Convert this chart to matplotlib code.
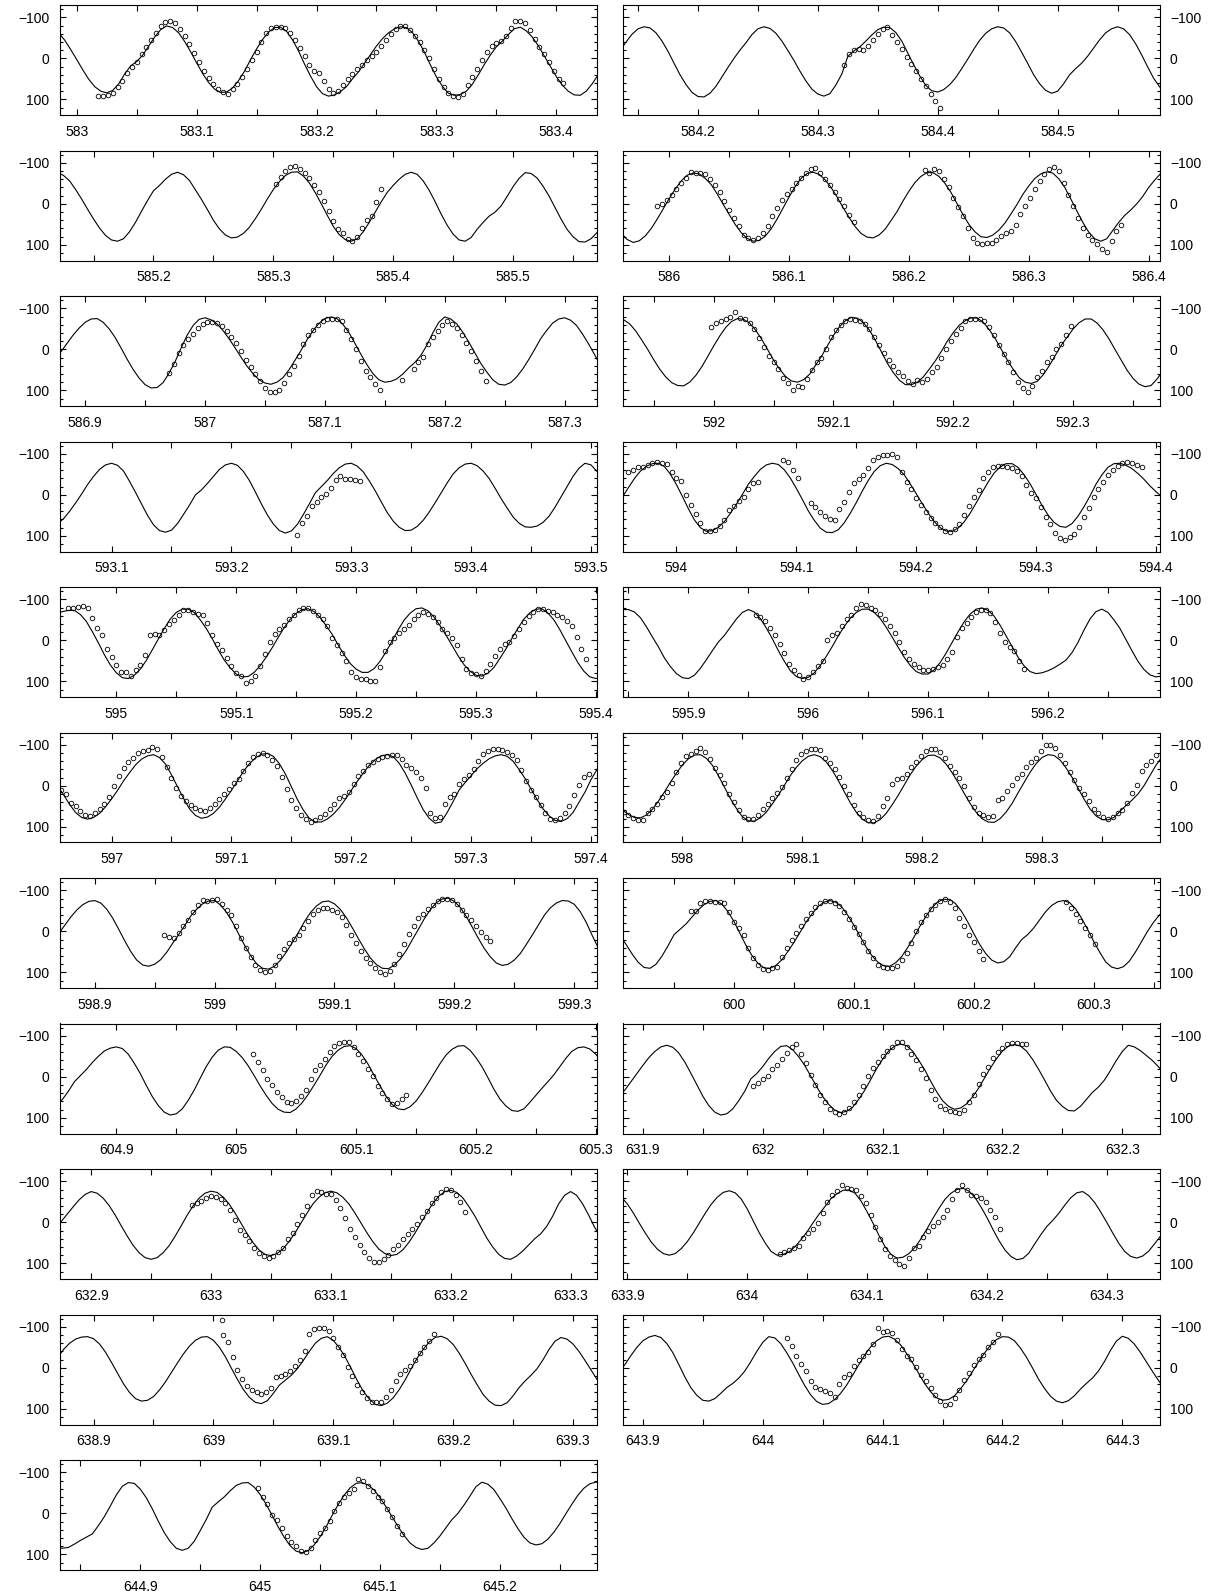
import numpy as np
import matplotlib.pyplot as plt
from matplotlib.ticker import MultipleLocator, FuncFormatter

plt.rcParams['font.family'] = ['Liberation Sans', 'DejaVu Sans']

MODEL_STEP = 0.005  # model curve read every 0.005 d
OBS_STEP = 0.004    # observations read every 0.004 d
SPAN = 0.448        # days shown per panel

# left edge (HJD - 2450000) of each panel, row by row, left then right
x_start = [582.986, 584.137, 585.122, 585.961, 586.879, 591.924, 593.057,
           593.955, 594.953, 595.845, 596.957, 597.950, 598.871, 599.907,
           604.853, 631.883, 632.874, 633.896, 638.872, 643.883, 644.833]

# first time of each model grid
model_t0 = [582.98, 584.13, 585.12, 585.96, 586.87, 591.92, 593.05, 593.95,
            594.95, 595.84, 596.95, 597.94, 598.87, 599.90, 604.85, 631.88,
            632.87, 633.89, 638.87, 643.88, 644.83]

# model radial velocity (km/s)
m01 = [-73, -62, -44, -21, 3, 28, 51, 69, 80, 84, 78, 62, 38, 18, 8, -8, -30, -52, -70, -79,
       -75, -62, -41, -16, 11, 37, 59, 75, 83, 82, 72, 54, 31, 3, -23, -46, -64, -75, -76, -66,
       -45, -18, 14, 43, 69, 86, 92, 89, 81, 69, 50, 33, 12, -9, -30, -48, -62, -72, -77, -75,
       -63, -42, -15, 16, 45, 68, 85, 90, 88, 80, 63, 40, 15, -8, -28, -42, -58, -72, -76, -67,
       -52, -31, -6, 19, 44, 65, 80, 89, 90, 80, 62, 40, 15]
m02 = [6, -19, -40, -59, -72, -77, -74, -62, -42, -17, 12, 40, 64, 83, 93, 94, 85, 68, 45, 22,
       0, -20, -38, -58, -72, -77, -73, -61, -42, -19, 5, 31, 55, 75, 87, 92, 86, 65, 38, -5,
       -18, -28, -42, -57, -70, -76, -75, -63, -42, -13, 16, 43, 66, 79, 82, 76, 64, 47, 25, 2,
       -22, -44, -61, -72, -77, -74, -62, -41, -15, 12, 40, 62, 78, 85, 80, 62, 40, 25, 12, -5,
       -25, -45, -62, -72, -77, -72, -58, -36, -9, 20, 48, 69, 84]
m03 = [-77, -69, -56, -35, -12, 13, 37, 59, 77, 88, 91, 85, 68, 45, 18, -8, -32, -45, -60, -72,
       -77, -71, -57, -34, -11, 14, 40, 61, 76, 83, 81, 72, 57, 36, 13, -12, -35, -54, -69, -77,
       -78, -68, -51, -27, 0, 28, 55, 75, 87, 91, 85, 68, 45, 20, -5, -28, -45, -60, -72, -77,
       -72, -56, -33, -5, 25, 52, 74, 88, 91, 82, 62, 45, 30, 20, 5, -18, -42, -62, -76, -74,
       -63, -43, -19, 9, 37, 62, 80, 92, 93, 85, 70, 52, 32]
m04 = [72, 87, 94, 90, 78, 60, 37, 12, -13, -36, -56, -70, -75, -73, -62, -47, -24, 1, 26, 50,
       70, 84, 91, 89, 79, 61, 37, 10, -17, -42, -62, -74, -77, -72, -59, -40, -17, 9, 33, 55,
       72, 81, 83, 76, 62, 41, 19, -7, -31, -52, -67, -76, -76, -67, -50, -28, -1, 26, 50, 68,
       80, 82, 76, 64, 47, 25, 2, -23, -44, -62, -73, -78, -75, -61, -40, -12, 17, 45, 69, 85,
       91, 85, 65, 45, 28, 15, 0, -18, -40, -58, -74]
m05 = [35, 22, 5, -15, -35, -52, -66, -74, -75, -66, -50, -29, -3, 24, 49, 70, 86, 94, 93, 81,
       58, 30, -3, -34, -58, -73, -77, -72, -62, -46, -26, -4, 19, 41, 59, 74, 82, 85, 80, 69,
       50, 27, 3, -23, -45, -63, -75, -79, -75, -61, -41, -15, 12, 37, 59, 74, 80, 78, 72, 60,
       45, 32, 15, -10, -40, -66, -79, -74, -62, -42, -18, 8, 34, 55, 74, 85, 87, 81, 67, 48,
       25, 0, -26, -46, -64, -74, -77, -71, -58, -37, -13, 13, 40]
m06 = [-76, -72, -62, -45, -23, 0, 25, 48, 67, 81, 88, 89, 80, 64, 43, 18, -8, -32, -53, -68,
       -75, -73, -64, -47, -25, 0, 26, 48, 66, 77, 80, 74, 61, 39, 17, -9, -34, -55, -70, -78,
       -76, -65, -47, -22, 6, 34, 57, 75, 86, 86, 80, 67, 48, 28, 5, -20, -41, -59, -70, -77,
       -76, -66, -48, -26, 0, 26, 49, 69, 80, 83, 78, 62, 40, 15, -10, -30, -50, -65, -74, -74,
       -64, -47, -25, 1, 26, 51, 71, 85, 91, 88, 72, 52, 32]
m07 = [80, 70, 58, 40, 20, -2, -25, -45, -62, -73, -77, -72, -58, -33, -6, 22, 50, 73, 87, 91,
       86, 70, 48, 25, 0, -12, -28, -45, -62, -73, -77, -72, -57, -35, -7, 22, 49, 71, 87, 93,
       88, 72, 48, 22, -5, -20, -35, -52, -66, -75, -77, -70, -56, -34, -10, 17, 43, 64, 79, 87,
       86, 77, 62, 42, 19, -5, -29, -51, -66, -75, -77, -71, -58, -40, -16, 9, 32, 54, 69, 78,
       79, 76, 67, 52, 30, 5, -20, -45, -65, -77, -73, -57, -40]
m08 = [25, 5, -18, -40, -58, -70, -76, -77, -69, -50, -25, 4, 34, 61, 80, 89, 87, 79, 65, 45,
       23, -1, -26, -45, -62, -73, -77, -74, -61, -41, -16, 11, 39, 62, 81, 91, 92, 85, 68, 45,
       19, -9, -35, -57, -71, -77, -74, -64, -49, -27, -3, 21, 44, 65, 80, 88, 89, 81, 66, 45,
       20, -6, -31, -53, -68, -76, -76, -67, -49, -27, -1, 26, 49, 67, 77, 79, 70, 52, 29, 3,
       -26, -49, -67, -76, -77, -72, -64, -52, -38, -22, -8, 5, 20]
m09 = [-65, -70, -73, -73, -63, -46, -21, 6, 35, 60, 79, 91, 93, 85, 70, 49, 23, -3, -29, -52,
       -68, -76, -76, -68, -50, -29, -4, 23, 48, 67, 82, 89, 88, 78, 62, 41, 18, -7, -31, -51,
       -66, -75, -77, -70, -56, -36, -15, 11, 35, 56, 70, 78, 78, 69, 51, 28, 2, -25, -49, -66,
       -77, -79, -72, -57, -36, -13, 12, 37, 59, 75, 85, 87, 80, 66, 44, 21, -5, -29, -52, -67,
       -76, -77, -67, -50, -26, 1, 28, 54, 75, 89, 93, 90, 82]
m10 = [-72, -75, -75, -69, -55, -33, -8, 16, 43, 64, 81, 91, 93, 85, 68, 47, 25, 4, -12, -32,
       -52, -68, -75, -69, -53, -30, -4, 25, 51, 74, 88, 93, 90, 79, 61, 39, 15, -11, -34, -54,
       -68, -76, -76, -68, -53, -32, -8, 17, 41, 61, 76, 82, 82, 72, 54, 31, 5, -21, -45, -64,
       -76, -79, -73, -59, -37, -11, 15, 41, 62, 76, 81, 79, 74, 67, 58, 48, 30, 5, -25, -52,
       -70, -76, -68, -50, -29, -2, 25, 51, 71, 84, 89, 87, 82]
m11 = [-15, 0, 22, 45, 65, 77, 81, 77, 67, 51, 32, 11, -12, -32, -51, -65, -73, -76, -69, -53,
       -27, 2, 30, 56, 72, 79, 76, 67, 52, 32, 11, -12, -35, -54, -68, -77, -79, -72, -54, -29,
       2, 33, 59, 79, 88, 88, 81, 69, 53, 33, 11, -11, -31, -50, -64, -73, -76, -71, -55, -31,
       -2, 29, 58, 79, 91, 88, 65, 38, 10, -8, -25, -42, -55, -66, -73, -76, -72, -60, -40, -18,
       8, 33, 56, 73, 84, 87, 80, 65, 40, 15, -15, -40, -58]
m12 = [35, 45, 59, 70, 77, 78, 71, 57, 37, 15, -9, -31, -51, -66, -75, -76, -67, -50, -25, 3,
       31, 55, 75, 85, 86, 78, 64, 44, 23, -1, -25, -45, -61, -72, -76, -71, -58, -38, -13, 14,
       41, 64, 81, 90, 90, 82, 67, 46, 23, -2, -27, -48, -64, -74, -75, -68, -53, -32, -8, 18,
       43, 64, 80, 88, 89, 80, 64, 43, 17, -8, -33, -54, -69, -76, -74, -63, -44, -21, 5, 32,
       56, 73, 82, 83, 77, 62, 48, 35, 20, 0, -25, -50, -70]
m13 = [5, -15, -35, -52, -65, -73, -75, -69, -54, -32, -5, 23, 49, 70, 82, 85, 80, 69, 51, 29,
       8, -14, -37, -54, -67, -74, -75, -64, -46, -22, 6, 34, 59, 79, 90, 92, 85, 70, 50, 26,
       2, -24, -46, -62, -72, -74, -67, -53, -33, -8, 18, 43, 65, 81, 90, 91, 82, 67, 46, 20,
       -5, -31, -53, -70, -79, -81, -73, -58, -36, -10, 17, 42, 62, 77, 83, 80, 70, 54, 32, 9,
       -15, -39, -57, -69, -75, -74, -66, -48, -22, 10, 40, 62, 78]
m14 = [-10, 10, 32, 55, 75, 88, 90, 80, 60, 35, 8, -5, -18, -35, -52, -65, -73, -75, -66, -48,
       -24, 5, 34, 59, 78, 89, 90, 83, 69, 49, 27, 3, -22, -42, -60, -71, -75, -71, -59, -39,
       -15, 11, 37, 59, 75, 84, 85, 76, 61, 39, 15, -12, -36, -57, -72, -78, -78, -67, -48, -23,
       5, 32, 54, 70, 77, 74, 62, 40, 20, 8, -8, -28, -48, -63, -72, -75, -70, -55, -32, -5,
       24, 50, 74, 87, 91, 86, 72, 50, 25, 0, -22, -40, -55]
m15 = [68, 55, 35, 12, -3, -18, -35, -50, -63, -70, -73, -69, -55, -33, -8, 21, 48, 70, 86, 93,
       90, 78, 57, 32, 3, -25, -48, -65, -73, -72, -62, -47, -27, -3, 22, 45, 65, 79, 86, 87,
       78, 63, 43, 20, -4, -29, -50, -65, -74, -76, -69, -53, -31, -4, 22, 47, 67, 78, 80, 73,
       59, 39, 16, -8, -32, -53, -67, -75, -76, -65, -47, -25, 2, 30, 54, 71, 82, 84, 78, 62,
       45, 28, 12, -5, -25, -45, -62, -71, -73, -68, -55, -38, -20]
m16 = [48, 32, 12, -8, -28, -47, -62, -73, -77, -72, -58, -36, -9, 19, 47, 70, 86, 93, 90, 78,
       58, 35, 5, -8, -25, -45, -62, -74, -76, -66, -49, -28, -2, 24, 48, 67, 81, 87, 84, 74,
       55, 33, 7, -20, -43, -63, -75, -80, -76, -63, -41, -18, 10, 36, 58, 72, 79, 76, 66, 49,
       28, 3, -22, -44, -63, -75, -79, -75, -63, -43, -19, 7, 34, 57, 72, 82, 83, 72, 55, 38,
       25, 8, -15, -40, -62, -77, -73, -64, -52, -40, -25, -8, 10]
m17 = [15, -2, -20, -38, -55, -68, -75, -71, -59, -41, -18, 8, 33, 56, 74, 86, 90, 86, 74, 57,
       34, 9, -17, -40, -59, -71, -76, -73, -62, -45, -23, 2, 27, 49, 67, 78, 81, 76, 65, 47,
       26, 2, -22, -45, -61, -72, -76, -72, -61, -45, -23, 1, 25, 47, 65, 76, 81, 78, 67, 49,
       27, 2, -23, -46, -64, -75, -78, -73, -60, -39, -16, 11, 38, 60, 78, 88, 90, 82, 70, 55,
       40, 28, 10, -15, -45, -66, -75, -66, -45, -18, 12, 35, 55]
m18 = [-73, -62, -45, -23, 2, 26, 48, 65, 76, 80, 76, 64, 47, 26, 2, -22, -44, -61, -73, -77,
       -72, -57, -33, -4, 25, 50, 71, 80, 78, 72, 59, 42, 23, 1, -20, -39, -58, -70, -78, -79,
       -71, -52, -26, 2, 32, 59, 78, 87, 85, 76, 61, 40, 16, -10, -34, -56, -71, -80, -83, -76,
       -61, -38, -12, 17, 44, 67, 83, 91, 88, 75, 52, 30, 10, -5, -22, -42, -60, -72, -75, -65,
       -48, -25, 0, 26, 51, 71, 83, 87, 82, 70, 52, 33, 12]
m19 = [-25, -45, -60, -70, -75, -76, -71, -58, -38, -13, 13, 39, 60, 75, 81, 79, 70, 54, 34, 11,
       -12, -34, -53, -67, -75, -76, -67, -50, -27, 1, 28, 53, 72, 84, 87, 80, 62, 42, 30, 18,
       2, -18, -40, -60, -72, -76, -67, -49, -26, 2, 31, 57, 76, 89, 92, 86, 73, 53, 29, 2,
       -24, -45, -63, -74, -77, -71, -57, -36, -11, 16, 41, 65, 81, 91, 92, 85, 68, 48, 32, 18,
       2, -20, -45, -65, -74, -70, -58, -40, -18, 5, 28, 48, 65]
m20 = [10, -8, -30, -50, -66, -75, -79, -74, -59, -37, -8, 22, 48, 67, 79, 81, 75, 62, 48, 38,
       25, 8, -15, -40, -62, -76, -73, -59, -37, -12, 16, 43, 66, 82, 89, 87, 77, 62, 42, 18,
       -7, -31, -51, -66, -75, -77, -70, -56, -35, -12, 13, 38, 58, 73, 79, 77, 68, 51, 32, 9,
       -15, -36, -55, -69, -76, -75, -66, -48, -26, 0, 27, 50, 69, 81, 85, 80, 68, 52, 38, 25,
       8, -15, -42, -65, -77, -72, -58, -38, -15, 8, 30, 50, 65]
m21 = [82, 85, 83, 75, 66, 58, 50, 30, 8, -18, -45, -66, -75, -73, -59, -38, -11, 19, 47, 69,
       85, 90, 85, 68, 42, 15, -15, -28, -40, -55, -68, -74, -75, -64, -46, -22, 5, 33, 58, 79,
       92, 96, 91, 77, 57, 33, 5, -21, -44, -62, -73, -75, -69, -57, -38, -16, 8, 32, 54, 72,
       83, 88, 85, 72, 55, 35, 15, 0, -20, -42, -65, -76, -71, -58, -36, -13, 13, 37, 58, 72,
       77, 74, 63, 46, 25, 1, -22, -44, -61, -72, -76, -75, -70]

# observed radial velocities: (first time, values every OBS_STEP)
o01 = [(583.018, [92, 91, 90, 85, 70, 55, 35, 22, 8, -10, -28, -45, -62, -78, -88, -90, -85, -72, -55, -35, -12, 10, 30, 48, 62, 75, 82, 86, 75, 62, 45, 25, 5, -15, -40, -62, -75, -77, -77, -75, -62, -45, -25, -5, 15, 30, 35, 55, 75, 85, 80, 65, 50, 38, 25, 15, 5, -5, -15, -30, -45, -60, -72, -80, -78, -70, -55, -40, -20, 0, 25, 50, 70, 85, 92, 93, 88, 65, 45, 25, 5, -15, -30, -38, -42, -55, -75, -90, -92, -85, -68, -48, -28, -10, 10, 30, 50, 60])]
o02 = [(584.322, [15, -10, -20, -22, -20, -30, -45, -60, -72, -77, -58, -40, -22, -4, 14, 32, 50, 68, 86, 104, 120])]
o03 = [(585.302, [-48, -65, -80, -90, -92, -85, -75, -62, -45, -30, -8, 18, 42, 62, 72, 85, 90, 80, 60, 40, 30, -5, -36])]
o04 = [(585.990, [5, 0, -10, -22, -35, -50, -62, -78, -75, -76, -73, -60, -45, -28, -8, 15, 35, 55, 75, 84, 88, 82, 72, 55, 30, 10, -10, -25, -36, -50, -62, -75, -85, -88, -75, -60, -47, -28, -12, 5, 28, 45]),
       (586.213, [-83, -75, -85, -80, -60, -40, -15, 8, 30, 60, 82, 96, 98, 95, 95, 88, 78, 72, 65, 52, 25, 5, -15, -35, -55, -72, -85, -90, -80, -52, -22, 5, 35, 58, 75, 87, 98, 110, 118, 90, 65, 52])]
o05 = [(586.970, [58, 35, 8, -10, -25, -38, -52, -62, -67, -66, -64, -58, -45, -31, -15, 5, 25, 42, 60, 78, 95, 103, 103, 100, 83, 60, 40, 15, -13, -35, -48, -59, -70, -75, -75, -73, -68, -47, -25, 0, 28, 52, 68, 85, 100]),
       (587.164, [74]),
       (587.174, [48, 30, 18, -12, -30, -45, -60, -70, -62, -52, -35, -15, 5, 28, 52, 78])]
o06 = [(591.998, [-55, -65, -70, -75, -78, -90, -77, -74, -65, -50, -27, -5, 15, 32, 48, 70, 82, 100, 90, 92, 72, 50, 32, 20, -2, -30, -48, -60, -70, -75, -72, -68, -63, -50, -30, -10, 8, 25, 40, 55, 65, 78, 85, 75, 80, 72, 55, 42, 20, 0, -20, -38, -52, -68, -74, -75, -75, -70, -55, -35, -10, 12, 30, 55, 80, 95, 105, 90, 68, 52, 30, 18, 0, -12, -35, -58])]
o07 = [(593.255, [98, 68, 52, 28, 18, 5, -2, -16, -35, -45, -38, -38, -37, -33])]
o08 = [(593.960, [-55, -61, -68, -69, -72, -78, -81, -77, -75, -55, -42, -33, 0, 24, 47, 69, 87, 89, 86, 75, 62, 38, 27, 15, 4, -14, -28, -32]),
       (594.089, [-85, -80, -60, -40]),
       (594.112, [20, 30, 42, 52, 58, 62, 35, 18, -8, -28, -38, -49, -66, -86, -93, -96, -97, -99, -92, -55, -32, -14, 8, 25, 42, 57, 68, 78, 88, 91, 84, 72, 50, 26, 5, -13, -40, -55, -67, -70, -71, -69, -66, -58, -45, -25, -4, 8, 30, 55, 70, 92, 105, 109, 103, 95, 78, 55, 32, 5, -15, -32, -48, -60, -71, -77, -81, -78, -72, -67])]
o09 = [(594.960, [-80, -78, -81, -83, -78, -55, -30, -12, 20, 40, 60, 78, 78, 87, 72, 60, 36, -12, -15, -14, -25, -39, -50, -62, -73, -75, -70, -65, -61, -42, -14, 8, 24, 42, 63, 80, 88, 105, 99, 88, 62, 34, 3, -15, -28, -38, -52, -63, -73, -80, -78, -72, -62, -51, -34, -5, 12, 30, 50, 77, 90, 94, 95, 98, 99, 65, 25, 3, -5, -18, -28, -38, -52, -62, -68, -64, -57, -44, -28, -17, -6, 11, 45, 70, 79, 83, 86, 75, 58, 37, 20, 10, 3, -10, -28, -45, -60, -70, -76, -77, -72, -69, -63, -56, -48, -35, -7, 20, 45])]
o10 = [(595.956, [-61, -58, -47, -31, -12, 8, 32, 57, 72, 85, 95, 90, 76, 63, 50, 0, -12, -18, -35, -52, -62, -80, -88, -85, -78, -75, -65, -52, -35, -18, 4, 28, 46, 58, 66, 73, 73, 70, 65, 60, 45, 28, -8, -30, -42, -57, -70, -75, -74, -66, -45, -18, 4, 15, 27, 50, 70])]
o11 = [(596.958, [11, 21, 41, 49, 61, 71, 74, 65, 56, 43, 27, 0, -24, -44, -57, -68, -79, -84, -88, -94, -91, -70, -45, -18, 4, 24, 37, 47, 55, 60, 62, 55, 45, 32, 19, 7, -6, -17, -35, -56, -70, -77, -79, -76, -63, -48, -22, 7, 34, 53, 70, 80, 87, 83, 76, 68, 57, 44, 30, 24, 14, -5, -24, -37, -50, -58, -65, -70, -73, -75, -74, -66, -50, -43, -34, -20, 5, 65, 78, 76, 45, 28, 19, -4, -17, -26, -40, -60, -77, -85, -89, -90, -87, -83, -74, -62, -38, -12, 11, 27, 47, 66, 80, 83, 79, 67, 48, 22, -3, -22, -28])]
o12 = [(597.951, [63, 72, 79, 83, 82, 67, 57, 43, 28, 14, -8, -33, -55, -72, -78, -85, -93, -82, -66, -44, -27, -8, 20, 40, 58, 75, 81, 80, 70, 56, 43, 30, 18, 3, -18, -40, -63, -77, -85, -89, -90, -87, -69, -55, -40, -22, 0, 21, 47, 67, 76, 82, 86, 74, 50, 30, -5, -16, -20, -30, -45, -57, -72, -85, -90, -90, -83, -68, -48, -34, -18, 0, 30, 52, 66, 71, 77, 74, 35, 29, 13, -3, -20, -30, -45, -57, -67, -85, -100, -99, -92, -74, -56, -34, -15, 5, 20, 38, 56, 66, 75, 81, 76, 67, 58, 42, 18, -2, -37, -52, -60, -76])]
o13 = [(598.958, [10, 14, 15, 4, -12, -27, -46, -65, -76, -75, -76, -78, -66, -53, -39, -12, 16, 40, 62, 81, 94, 100, 97, 82, 61, 44, 29, 18, 8, -7, -26, -42, -52, -58, -58, -52, -47, -36, -16, 8, 28, 47, 64, 78, 90, 99, 105, 97, 80, 56, 30, 6, -13, -32, -43, -54, -65, -73, -79, -80, -77, -66, -52, -40, -27, -14, 1, 14, 24])]
o14 = [(599.964, [-50, -50, -68, -73, -74, -71, -71, -70, -46, -22, -7, 10, 40, 65, 82, 92, 94, 90, 86, 62, 40, 20, 4, -12, -30, -44, -60, -70, -74, -74, -70, -63, -48, -31, -10, 7, 25, 48, 66, 82, 88, 90, 90, 85, 70, 52, 28, 0, -22, -40, -54, -65, -75, -78, -72, -56, -33, -12, 8, 27, 47, 68]),
       (600.277, [-71, -57, -42, -26, -8, 10, 32])]
o15 = [(605.014, [-55, -35, -16, 6, 20, 36, 48, 62, 64, 58, 47, 31, 5, -16, -30, -44, -60, -76, -82, -85, -84, -72, -55, -39, -18, -1, 23, 40, 55, 65, 64, 55, 45])]
o16 = [(631.992, [23, 14, 5, -2, -19, -30, -44, -58, -72, -80, -55, -34, -4, 21, 43, 62, 78, 86, 90, 86, 76, 62, 44, 23, -1, -21, -37, -52, -62, -72, -85, -85, -72, -56, -40, -18, 3, 31, 54, 70, 78, 82, 86, 87, 80, 62, 43, 18, -6, -25, -45, -60, -70, -81, -83, -83, -80, -80])]
o17 = [(632.984, [-42, -47, -53, -60, -65, -62, -57, -47, -30, -5, 18, 31, 45, 62, 75, 83, 86, 83, 73, 62, 41, 25, 4, -18, -40, -67, -77, -73, -70, -70, -55, -36, -10, 16, 35, 56, 73, 88, 96, 96, 90, 80, 64, 54, 40, 28, 17, 4, -12, -28, -48, -60, -75, -82, -78, -66, -50, -25])]
o18 = [(634.027, [78, 73, 68, 63, 57, 38, 26, 16, 2, -23, -49, -66, -77, -92, -83, -82, -78, -63, -48, -17, 12, 41, 66, 81, 91, 101, 106, 87, 63, 57, 36, 22, 8, -2, -14, -31, -56, -78, -90, -80, -67, -63, -59, -50, -31, -13, 15])]
o19 = [(639.0069, [-117]),
       (639.008, [-80, -62, -26, 5, 27, 45, 55, 60, 64, 60, 48, 22, 19, 14, 7, -4, -19, -42, -82, -95, -98, -96, -90, -72, -52, -31, -3, 21, 42, 58, 73, 82, 84, 82, 70, 54, 33, 15, 5, -5, -19, -36, -51, -66, -82])]
o20 = [(644.020, [-73, -53, -29, -10, 7, 33, 46, 51, 56, 61, 70, 40, 22, 14, -5, -19, -28, -38, -58, -97, -87, -89, -86, -69, -45, -30, -21, -2, 17, 33, 50, 67, 81, 90, 88, 73, 55, 30, 12, -8, -22, -32, -52, -64, -82])]
o21 = [(644.998, [-63, -40, -24, 4, 15, 35, 56, 69, 80, 91, 94, 84, 66, 48, 35, 18, -5, -26, -40, -49, -60, -84, -79, -66, -55, -40, -30, -10, 8, 32, 50])]

models = [m01, m02, m03, m04, m05, m06, m07, m08, m09, m10, m11,
          m12, m13, m14, m15, m16, m17, m18, m19, m20, m21]
observed = [o01, o02, o03, o04, o05, o06, o07, o08, o09, o10, o11,
            o12, o13, o14, o15, o16, o17, o18, o19, o20, o21]

W, H = 1226, 1591
fig = plt.figure(figsize=(W / 100, H / 100), dpi=100)

for i in range(len(models)):
    row, col = divmod(i, 2)
    left = 60 if col == 0 else 622.5
    top = 5 + 145.5 * row
    ax = fig.add_axes([left / W, 1 - (top + 110) / H, 537 / W, 110 / H])

    vals = models[i]
    t = model_t0[i] + MODEL_STEP * np.arange(len(vals))
    ax.plot(t, vals, color='black', lw=0.8)
    for t0, seg in observed[i]:
        ts = t0 + OBS_STEP * np.arange(len(seg))
        ax.plot(ts, seg, 'o', ms=3.3, mfc='none', mec='black', mew=0.6)

    ax.set_xlim(x_start[i], x_start[i] + SPAN)
    ax.set_ylim(138, -130)

    ax.xaxis.set_major_locator(MultipleLocator(0.1))
    ax.xaxis.set_minor_locator(MultipleLocator(0.05))
    ax.xaxis.set_major_formatter(FuncFormatter(lambda v, p: '%g' % round(v, 2)))
    ax.yaxis.set_major_locator(MultipleLocator(100))
    ax.yaxis.set_minor_locator(MultipleLocator(20))

    ax.tick_params(which='both', direction='in', top=True, right=True,
                   width=0.8, labelsize=10)
    ax.xaxis.set_tick_params(which='both', length=4.3, pad=7)
    ax.yaxis.set_tick_params(which='major', length=4.3, pad=7.5)
    ax.yaxis.set_tick_params(which='minor', length=2.2)
    if col == 1:
        ax.tick_params(axis='y', labelleft=False, labelright=True)
    for s in ax.spines.values():
        s.set_linewidth(0.8)

fig.savefig('out.png', dpi=100)
